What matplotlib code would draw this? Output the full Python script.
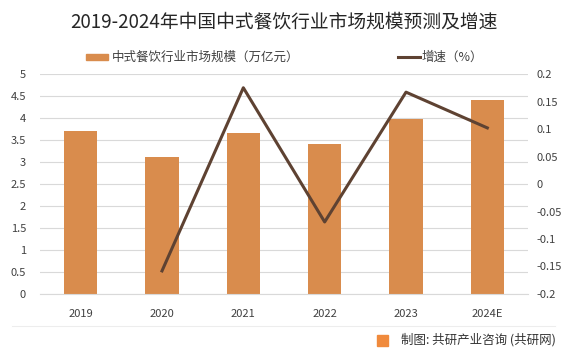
import matplotlib.pyplot as plt
import matplotlib.patches as mpatches
import numpy as np

plt.rcParams['font.family'] = ['Noto Sans CJK SC', 'DejaVu Sans']

years = ["2019", "2020", "2021", "2022", "2023", "2024E"]
market_size = [3.70, 3.11, 3.66, 3.41, 3.98, 4.41]
growth_years = ["2020", "2021", "2022", "2023", "2024E"]
growth = [-0.158, 0.175, -0.069, 0.167, 0.102]

bar_color = "#D98C4D"
line_color = "#5E4232"
grid_color = "#D9D9D9"
text_color = "#404040"

fig = plt.figure(figsize=(5.68, 3.54), dpi=100)
ax = fig.add_axes([40 / 568, 1 - 294 / 354, 488 / 568, 220 / 354])
ax2 = ax.twinx()

x = np.arange(len(years))
ax.bar(x, market_size, width=0.41, color=bar_color, zorder=2)
ax.set_xlim(-0.5, len(years) - 0.5)
ax.set_ylim(0, 5)
ax.set_yticks(np.arange(0, 5.01, 0.5))
ax.set_yticklabels(["0", "0.5", "1", "1.5", "2", "2.5", "3", "3.5", "4", "4.5", "5"])
ax.set_xticks(x)
ax.set_xticklabels(years)
ax.yaxis.grid(True, color=grid_color, linewidth=0.8, zorder=0)
ax.set_axisbelow(True)

gx = [years.index(y) for y in growth_years]
ax2.plot(gx, growth, color=line_color, linewidth=2.2, zorder=3)
ax2.set_ylim(-0.2, 0.2)
ax2.set_yticks(np.arange(-0.2, 0.201, 0.05))
ax2.set_yticklabels(["-0.2", "-0.15", "-0.1", "-0.05", "0", "0.05", "0.1", "0.15", "0.2"])

for a in (ax, ax2):
    for s in a.spines.values():
        s.set_visible(False)
    a.tick_params(length=0, labelsize=8, colors=text_color)
ax.tick_params(axis="y", pad=10)
ax.tick_params(axis="x", pad=11)
ax2.tick_params(axis="y", pad=6)
ax.spines["bottom"].set_visible(True)
ax.spines["bottom"].set_color(grid_color)

fig.text(0.5, 1 - 22 / 354, "2019-2024年中国中式餐饮行业市场规模预测及增速",
         ha="center", va="center", fontsize=13.5, color="#262626")

# legend
fig.patches.append(mpatches.Rectangle((86 / 568, 1 - 60 / 354), 22 / 568, 6 / 354,
                                      color=bar_color, transform=fig.transFigure))
fig.text(112 / 568, 1 - 57 / 354, "中式餐饮行业市场规模（万亿元）", ha="left", va="center",
         fontsize=9, color=text_color)
fig.lines.append(plt.Line2D([398 / 568, 420 / 568], [1 - 57 / 354, 1 - 57 / 354],
                            color=line_color, linewidth=2.2, transform=fig.transFigure))
fig.text(422 / 568, 1 - 57 / 354, "增速（%）", ha="left", va="center",
         fontsize=9, color=text_color)

# footer
fig.lines.append(plt.Line2D([12 / 568, 555 / 568], [1 - 326 / 354, 1 - 326 / 354],
                            color="#EDEDED", linewidth=0.8, transform=fig.transFigure))
fig.patches.append(mpatches.Rectangle((377 / 568, 1 - 346 / 354), 11 / 568, 11 / 354,
                                      color="#F08A3C", transform=fig.transFigure))
fig.text(556 / 568, 1 - 340 / 354, "制图: 共研产业咨询 (共研网)", ha="right", va="center",
         fontsize=9, color="#333333")

fig.savefig("out.png", dpi=100, facecolor="white")
